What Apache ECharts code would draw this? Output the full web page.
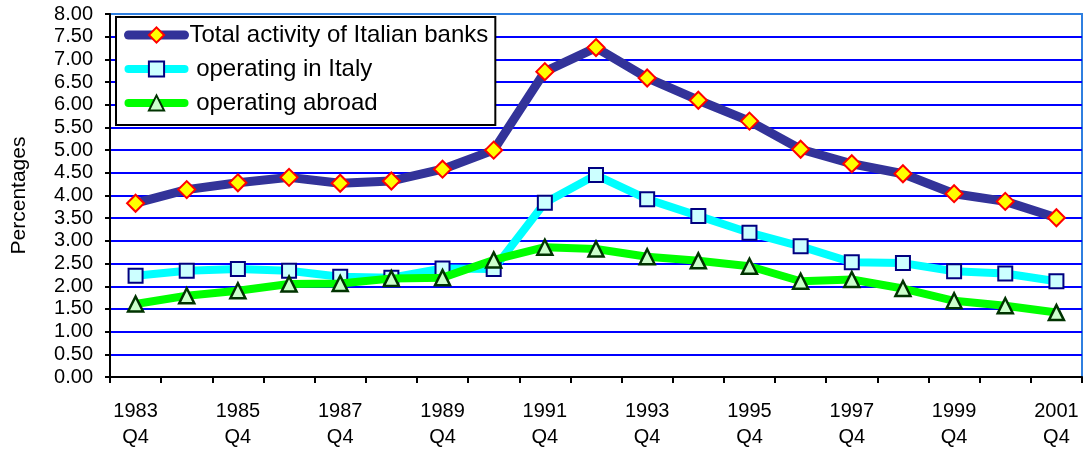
<!DOCTYPE html>
<html>
<head>
<meta charset="utf-8">
<script src="https://cdn.jsdelivr.net/npm/echarts@6/dist/echarts.min.js"></script>
<style>
  html, body { margin: 0; padding: 0; background: #fff; }
  #chart { width: 1086px; height: 452px; }
</style>
</head>
<body>
<div id="chart"></div>
<script>
const categories = ['1983\nQ4', '1984\nQ4', '1985\nQ4', '1986\nQ4', '1987\nQ4', '1988\nQ4', '1989\nQ4',
  '1990\nQ4', '1991\nQ4', '1992\nQ4', '1993\nQ4', '1994\nQ4', '1995\nQ4', '1996\nQ4', '1997\nQ4',
  '1998\nQ4', '1999\nQ4', '2000\nQ4', '2001\nQ4']

const totalActivity = [3.83, 4.13, 4.28, 4.40, 4.27, 4.32, 4.58, 5.00, 6.73, 7.26, 6.59, 6.10, 5.64,
  5.02, 4.70, 4.48, 4.04, 3.87, 3.51]
const inItaly = [2.23, 2.34, 2.38, 2.34, 2.21, 2.19, 2.39, 2.38, 3.84, 4.45, 3.92, 3.55, 3.18,
  2.88, 2.53, 2.51, 2.33, 2.28, 2.11]
const abroad = [1.61, 1.79, 1.90, 2.05, 2.06, 2.17, 2.19, 2.58, 2.86, 2.82, 2.65, 2.56, 2.44,
  2.11, 2.15, 1.95, 1.68, 1.57, 1.42]

const FONT = '"Liberation Sans", Arial, sans-serif'

// blue grid lines, the top one (8.00) lighter
const splitColors = []
for (let i = 0; i < 16; i++) splitColors.push('#0000ff')
splitColors.push('#2f7fe0')

const chart = echarts.init(document.getElementById('chart'))

chart.setOption({
  animation: false,
  textStyle: { fontFamily: FONT },
  grid: {
    left: 110, right: 4, top: 14, bottom: 75,
    outerBoundsMode: 'none',
    show: true,
    borderColor: '#2f7fe0',
    borderWidth: 2
  },
  legend: {
    left: 116, top: 17,
    orient: 'vertical',
    padding: [6, 7, 10, 8],
    itemGap: 10,
    itemWidth: 56,
    itemHeight: 19,
    backgroundColor: '#fff',
    borderColor: '#000',
    borderWidth: 2,
    textStyle: { fontSize: 24, color: '#000', fontFamily: FONT },
    data: [
      { name: 'Total activity of Italian banks', lineStyle: { width: 9, cap: 'round' } },
      { name: ' operating in Italy', lineStyle: { width: 8, cap: 'round' } },
      { name: ' operating abroad', lineStyle: { width: 8, cap: 'round' } }
    ]
  },
  xAxis: {
    type: 'category',
    data: categories,
    boundaryGap: true,
    axisLine: { lineStyle: { color: '#000', width: 2 } },
    axisTick: { show: true, interval: 0, length: 6, lineStyle: { color: '#000', width: 2 } },
    axisLabel: {
      interval: 1,
      color: '#000',
      fontSize: 20,
      lineHeight: 26,
      margin: 21,
      fontFamily: FONT
    },
    splitLine: { show: false }
  },
  yAxis: {
    type: 'value',
    min: 0, max: 8, interval: 0.5,
    name: 'Percentages',
    nameLocation: 'middle',
    nameGap: 80,
    nameTextStyle: { fontSize: 21, color: '#000', fontFamily: FONT },
    axisLine: { show: true, lineStyle: { color: '#000', width: 2 } },
    axisTick: { show: true, length: 5, lineStyle: { color: '#000', width: 2 } },
    axisLabel: {
      color: '#000',
      fontSize: 20,
      margin: 17,
      fontFamily: FONT,
      formatter: v => v.toFixed(2)
    },
    splitLine: { show: true, lineStyle: { color: splitColors, width: 2 } }
  },
  series: [
    {
      name: 'Total activity of Italian banks',
      type: 'line',
      data: totalActivity,
      symbol: 'diamond',
      symbolSize: 17,
      lineStyle: { color: '#333399', width: 9 },
      itemStyle: { color: '#ffff00', borderColor: '#ff0000', borderWidth: 2 },
      z: 4
    },
    {
      name: ' operating in Italy',
      type: 'line',
      data: inItaly,
      symbol: 'rect',
      symbolSize: 14,
      lineStyle: { color: '#00ffff', width: 8 },
      itemStyle: { color: '#ccffff', borderColor: '#000080', borderWidth: 2 },
      z: 3
    },
    {
      name: ' operating abroad',
      type: 'line',
      data: abroad,
      symbol: 'triangle',
      symbolSize: 15,
      lineStyle: { color: '#00ff00', width: 8 },
      itemStyle: { color: '#ccffcc', borderColor: '#003300', borderWidth: 2.5 },
      z: 5
    }
  ]
})
</script>
</body>
</html>
